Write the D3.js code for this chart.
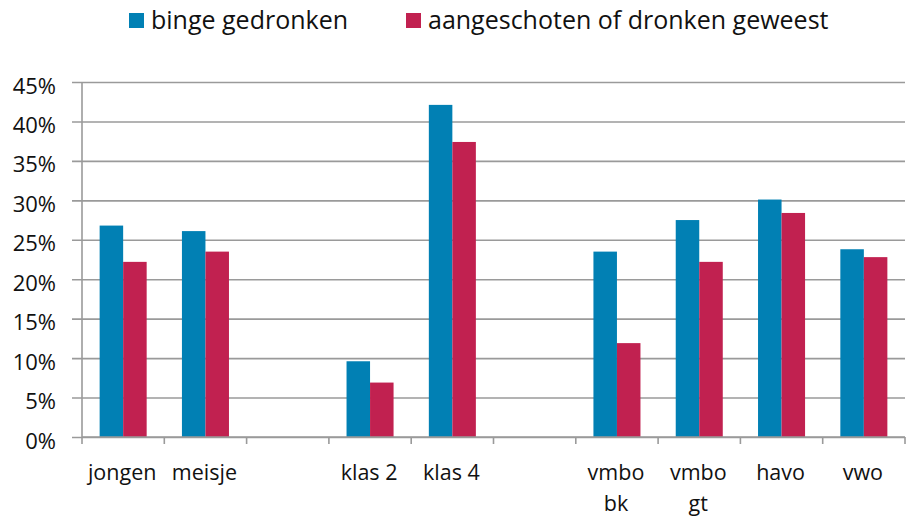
<!DOCTYPE html>
<html>
<head>
<meta charset="utf-8">
<script src="https://cdn.jsdelivr.net/npm/d3@7"></script>
<style>
  body { margin: 0; background: #fff; }
  text { font-family: "Open Sans", "Noto Sans", sans-serif; fill: #111; }
</style>
</head>
<body>
<div id="chart"></div>
<script>
// data
var categories = ["jongen", "meisje", "", "klas 2", "klas 4", "", "vmbo\nbk", "vmbo\ngt", "havo", "vwo"];
var binge = [26.8, 26.1, null, 9.6, 42.1, null, 23.5, 27.5, 30.1, 23.8];
var dronken = [22.2, 23.5, null, 6.9, 37.4, null, 11.9, 22.2, 28.4, 22.8];
var seriesNames = ["binge gedronken", "aangeschoten of dronken geweest"];
var yTicks = [0, 5, 10, 15, 20, 25, 30, 35, 40, 45];

function init(){
    var W = 907, H = 516;
    var margin = {top: 82, right: 2, bottom: 79, left: 82};
    var w = W - margin.left - margin.right;
    var h = H - margin.top - margin.bottom;
    var colors = ["#0180b4", "#c12150"];

    var svg = d3.select("#chart").append("svg")
        .attr("width", W)
        .attr("height", H);

    var g = svg.append("g")
        .attr("transform", "translate(" + margin.left + "," + margin.top + ")");

    var idx = d3.range(categories.length);
    var xScale = d3.scaleBand().domain(idx).range([0, w]);
    var xSub = d3.scaleBand().domain([0, 1]).range([0, xScale.bandwidth()]).paddingOuter(0.75);
    var yScale = d3.scaleLinear().domain([0, 45]).range([h, 0]);

    // gridlines + y labels
    var yAxis = d3.axisLeft(yScale)
        .tickValues(yTicks)
        .tickSize(-w)
        .tickPadding(26)
        .tickFormat(function(d){ return d + "%"; });
    var ya = g.append("g").call(yAxis);
    ya.select(".domain").remove();
    ya.selectAll(".tick line").attr("stroke", "#9a9a9a").attr("stroke-width", 1.6)
        .attr("x1", -10);
    ya.selectAll(".tick text").attr("font-size", 22).attr("dy", "0.5em").attr("fill", "#111");

    // y axis line
    g.append("line").attr("x1", 0).attr("x2", 0).attr("y1", 0).attr("y2", h)
        .attr("stroke", "#9a9a9a").attr("stroke-width", 1.6);

    // bars
    var data = [binge, dronken];
    data.forEach(function(vals, s){
        g.selectAll(".bar" + s)
            .data(idx.filter(function(i){ return vals[i] != null; }))
            .enter().append("rect")
            .attr("x", function(i){ return xScale(i) + xSub(s); })
            .attr("width", xSub.bandwidth())
            .attr("y", function(i){ return yScale(vals[i]); })
            .attr("height", function(i){ return h - yScale(vals[i]); })
            .attr("fill", colors[s]);
    });

    // x axis line + ticks at category boundaries
    g.append("line").attr("x1", 0).attr("x2", w).attr("y1", h).attr("y2", h)
        .attr("stroke", "#9a9a9a").attr("stroke-width", 1.6);
    var bounds = idx.map(function(i){ return xScale(i); }).concat([w]);
    g.selectAll(".xtick").data(bounds).enter().append("line")
        .attr("x1", function(d){ return d; }).attr("x2", function(d){ return d; })
        .attr("y1", h).attr("y2", h + 7)
        .attr("stroke", "#9a9a9a").attr("stroke-width", 1.6);

    // x labels
    var lab = g.selectAll(".xlabel").data(idx).enter().append("text")
        .attr("text-anchor", "middle")
        .attr("font-size", 21.5)
        .attr("transform", function(i){ return "translate(" + (xScale(i) + xScale.bandwidth() / 2 - 1) + "," + (h + 43) + ")"; });
    lab.selectAll("tspan")
        .data(function(i){ return categories[i].split("\n"); })
        .enter().append("tspan")
        .attr("x", 0)
        .attr("dy", function(d, j){ return j === 0 ? 0 : 31; })
        .text(function(d){ return d; });

    // legend
    var legX = [129, 406];
    seriesNames.forEach(function(name, s){
        var lg = svg.append("g").attr("transform", "translate(" + legX[s] + ",13)");
        lg.append("rect").attr("width", 15).attr("height", 15).attr("fill", colors[s]);
        lg.append("text").attr("x", 22).attr("y", 16).attr("font-size", 25).text(name);
    });
}
window.onload = init;
</script>
</body>
</html>
